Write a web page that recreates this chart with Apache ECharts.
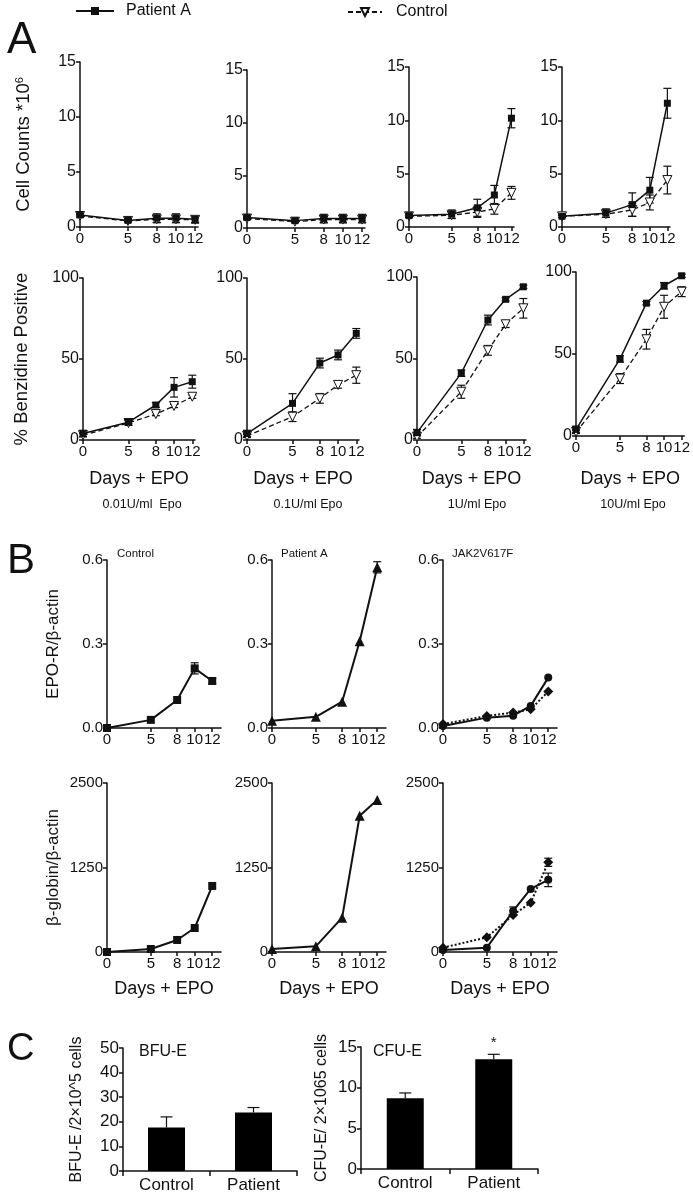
<!DOCTYPE html>
<html>
<head>
    <meta charset="utf-8">
    <title>EPO response</title>
    <script src="https://cdn.jsdelivr.net/npm/echarts@6/dist/echarts.min.js"></script>
    <style>
        html, body { margin: 0; padding: 0; background: #fff; }
        #chart { width: 693px; height: 1194px; }
    </style>
</head>
<body>
<div id="chart"></div>
<script type="text/javascript">
    // ---- data ----
    const days = [0, 5, 8, 10, 12];
    const epoDoses = ['0.01U/ml  Epo', '0.1U/ml Epo', '1U/ml Epo', '10U/ml Epo'];

    // A, top row: cell counts *10^6, one row per Epo dose
    const countPatient = [
        [1.1, 0.6, 0.8, 0.8, 0.7],
        [1.0, 0.7, 0.9, 0.9, 0.9],
        [1.07, 1.2, 1.8, 3.0, 10.2],
        [1.0, 1.3, 2.1, 3.45, 11.6]
    ];
    const countPatientErr = [
        [0.1, 0.1, 0.4, 0.4, 0.3],
        [0.1, 0.1, 0.4, 0.4, 0.4],
        [0.1, 0.4, 0.8, 0.9, 0.9],
        [0.1, 0.4, 1.1, 1.2, 1.4]
    ];
    const countControl = [
        [1.0, 0.55, 0.7, 0.7, 0.65],
        [0.9, 0.6, 0.8, 0.8, 0.8],
        [1.0, 1.1, 1.4, 1.7, 3.2],
        [1.0, 1.2, 1.6, 2.3, 4.4]
    ];
    const countControlErr = [
        [0.1, 0.1, 0.3, 0.3, 0.3],
        [0.1, 0.1, 0.3, 0.3, 0.3],
        [0.1, 0.3, 0.5, 0.5, 0.6],
        [0.1, 0.3, 0.6, 0.7, 1.3]
    ];

    // A, bottom row: % benzidine positive
    const benzPatient = [
        [4, 11, 21.6, 32.5, 36],
        [4, 22.6, 47.5, 52.5, 65.8],
        [4.5, 41, 73.6, 86.3, 94],
        [4, 47, 81, 91.6, 97.7]
    ];
    const benzPatientErr = [
        [2, 1, 1.5, 6, 4],
        [2, 6, 3, 3, 3],
        [2, 2, 3, 1, 1],
        [2, 2, 1, 2, 1]
    ];
    const benzControl = [
        [3, 10.5, 16, 21, 26.7],
        [2.5, 14.4, 25.7, 34, 40],
        [2, 29.6, 55, 71, 80.8],
        [2.5, 35, 59, 78.8, 88]
    ];
    const benzControlErr = [
        [1, 1.5, 1, 1, 1],
        [1, 3, 3, 2, 5],
        [1, 4, 3, 2, 6],
        [1, 3, 6, 7, 3]
    ];

    // B: EPO-R / beta-actin and beta-globin / beta-actin
    const epoRControl = [0.0, 0.029, 0.10, 0.213, 0.168];
    const epoRControlErr = [0, 0, 0, 0.02, 0.01];
    const epoRPatient = [0.026, 0.04, 0.094, 0.31, 0.574];
    const epoRPatientErr = [0, 0, 0, 0, 0.02];
    const epoRJakCircle = [0.007, 0.037, 0.044, 0.079, 0.18];
    const epoRJakDiamond = [0.014, 0.043, 0.055, 0.067, 0.13];

    const globinControl = [0, 44, 178, 355, 977];
    const globinPatient = [44, 84, 508, 2015, 2250];
    const globinJakCircle = [30, 64, 607, 933, 1067];
    const globinJakCircleErr = [0, 0, 60, 0, 100];
    const globinJakDiamond = [64, 217, 547, 730, 1327];
    const globinJakDiamondErr = [0, 0, 0, 0, 60];

    // C: colony counts
    const colonyGroups = ['Control', 'Patient'];
    const bfuE = [17.7, 23.8];
    const bfuEErr = [4.3, 2.0];
    const cfuE = [8.7, 13.5];
    const cfuEErr = [0.65, 0.6];

    // ---- helpers ----
    const FONT = 'Liberation Sans';
    const INK = '#111';
    let grids = [], xAxes = [], yAxes = [], series = [], titles = [];

    function addGrid(box, xAxis, yAxis) {
        let i = grids.length;
        grids.push({left: box[0], top: box[1], width: box[2], height: box[3]});
        xAxes.push(Object.assign({gridIndex: i}, xAxis));
        yAxes.push(Object.assign({gridIndex: i}, yAxis));
        return i;
    }

    function dayAxis(max, fs, name, gap) {
        return {
            type: 'value', min: 0, max: max,
            axisLine: {show: true, onZero: false, lineStyle: {color: INK, width: 1.5}},
            axisTick: {show: true, customValues: days, length: 4, lineStyle: {color: INK, width: 1.5}},
            axisLabel: {customValues: days, fontSize: fs, color: INK, fontFamily: FONT, margin: 4,
                showMinLabel: true, showMaxLabel: true, hideOverlap: false},
            splitLine: {show: false},
            name: name || '', nameLocation: 'middle', nameGap: gap || 0,
            nameTextStyle: {fontSize: 18, color: INK, fontFamily: FONT}
        };
    }

    function valueAxis(max, interval, fs, name, gap, nameSize) {
        return {
            type: 'value', min: 0, max: max, interval: interval,
            axisLine: {show: true, onZero: false, lineStyle: {color: INK, width: 1.5}},
            axisTick: {show: true, length: 4, lineStyle: {color: INK, width: 1.5}},
            axisLabel: {fontSize: fs, color: INK, fontFamily: FONT, margin: 4,
                formatter: v => interval < 1 ? v.toFixed(1) : String(v)},
            splitLine: {show: false},
            name: name || '', nameLocation: 'middle', nameGap: gap || 0, nameRotate: 90,
            nameTextStyle: {
                fontSize: nameSize || 18, color: INK, fontFamily: FONT,
                rich: {sup: {fontSize: 11, verticalAlign: 'top', fontFamily: FONT, color: INK}}
            }
        };
    }

    function errorBars(upperOnly) {
        return function (params, api) {
            let e = api.value(2);
            if (!e) return null;
            let x = api.value(0), v = api.value(1);
            let hi = api.coord([x, v + e]);
            let lo = api.coord([x, upperOnly ? v : v - e]);
            let cap = upperOnly ? 6 : 4;
            let st = {stroke: INK, lineWidth: 1.2};
            let kids = [
                {type: 'line', shape: {x1: hi[0], y1: hi[1], x2: lo[0], y2: lo[1]}, style: st},
                {type: 'line', shape: {x1: hi[0] - cap, y1: hi[1], x2: hi[0] + cap, y2: hi[1]}, style: st}
            ];
            if (!upperOnly) {
                kids.push({type: 'line', shape: {x1: lo[0] - cap, y1: lo[1], x2: lo[0] + cap, y2: lo[1]}, style: st});
            }
            return {type: 'group', children: kids};
        };
    }

    const styles = {
        patient: {symbol: 'rect', symbolSize: 7, itemStyle: {color: INK}, lineStyle: {color: INK, width: 1.5}},
        control: {symbol: 'triangle', symbolSize: 9, symbolRotate: 180,
            itemStyle: {color: '#fff', borderColor: INK, borderWidth: 1},
            lineStyle: {color: INK, width: 1.3, type: [5, 3]}},
        square: {symbol: 'rect', symbolSize: 8, itemStyle: {color: INK}, lineStyle: {color: INK, width: 2}},
        tri: {symbol: 'triangle', symbolSize: 10, itemStyle: {color: INK}, lineStyle: {color: INK, width: 2}},
        circle: {symbol: 'circle', symbolSize: 8, itemStyle: {color: INK}, lineStyle: {color: INK, width: 2}},
        diamond: {symbol: 'diamond', symbolSize: 10, itemStyle: {color: INK}, lineStyle: {color: INK, width: 2, type: [2, 2]}}
    };

    function addLine(name, gi, values, errs, style) {
        series.push(Object.assign({
            type: 'line', name: name, xAxisIndex: gi, yAxisIndex: gi, z: 3,
            data: days.map((d, k) => [d, values[k]])
        }, style));
        if (errs) {
            series.push({
                type: 'custom', xAxisIndex: gi, yAxisIndex: gi, z: 2,
                renderItem: errorBars(false),
                data: days.map((d, k) => [d, values[k], errs[k]])
            });
        }
    }

    // ---- panel A ----
    const countBoxes = [[80, 62, 118, 165], [247, 70, 118, 158], [409, 67, 105, 160], [562, 67, 108, 160]];
    const benzBoxes = [[83, 278, 112, 162], [247, 278, 112, 162], [417, 277, 109, 163], [576, 272, 110, 164]];
    const doseCenters = [137, 303, 472, 628];

    for (let p = 0; p < 4; p++) {
        let g = addGrid(countBoxes[p], dayAxis(12.3, 15),
            valueAxis(15, 5, 16, p === 0 ? 'Cell Counts *10{sup|6}' : '', 47, 18.5));
        addLine('Control', g, countControl[p], countControlErr[p], styles.control);
        addLine('Patient A', g, countPatient[p], countPatientErr[p], styles.patient);

        let box = benzBoxes[p];
        let h = addGrid(box, dayAxis(12.3, 15, 'Days + EPO', 470 - (box[1] + box[3])),
            valueAxis(100, 50, 16, p === 0 ? '% Benzidine Positive' : '', 52, 18.5));
        addLine('Control', h, benzControl[p], benzControlErr[p], styles.control);
        addLine('Patient A', h, benzPatient[p], benzPatientErr[p], styles.patient);

        titles.push({text: epoDoses[p], left: doseCenters[p], top: 493, textAlign: 'center',
            textStyle: {fontSize: 12.5, fontWeight: 'normal', color: INK, fontFamily: FONT}});
    }

    // ---- panel B ----
    const bLefts = [107, 272, 443];
    let e0 = addGrid([bLefts[0], 560, 114, 168], dayAxis(13, 15), valueAxis(0.6, 0.3, 15, 'EPO-R/β-actin', 45, 17));
    let e1 = addGrid([bLefts[1], 560, 114, 168], dayAxis(13, 15), valueAxis(0.6, 0.3, 15));
    let e2 = addGrid([bLefts[2], 560, 114, 168], dayAxis(13, 15), valueAxis(0.6, 0.3, 15));
    addLine('EPO-R control', e0, epoRControl, epoRControlErr, styles.square);
    addLine('EPO-R patient', e1, epoRPatient, epoRPatientErr, styles.tri);
    addLine('EPO-R JAK2 a', e2, epoRJakDiamond, null, styles.diamond);
    addLine('EPO-R JAK2 b', e2, epoRJakCircle, null, styles.circle);

    let b0 = addGrid([bLefts[0], 783, 114, 169], dayAxis(13, 15, 'Days + EPO', 28), valueAxis(2500, 1250, 15, 'β-globin/β-actin', 45, 17));
    let b1 = addGrid([bLefts[1], 783, 114, 169], dayAxis(13, 15, 'Days + EPO', 28), valueAxis(2500, 1250, 15));
    let b2 = addGrid([bLefts[2], 783, 114, 169], dayAxis(13, 15, 'Days + EPO', 28), valueAxis(2500, 1250, 15));
    addLine('globin control', b0, globinControl, null, styles.square);
    addLine('globin patient', b1, globinPatient, null, styles.tri);
    addLine('globin JAK2 a', b2, globinJakDiamond, globinJakDiamondErr, styles.diamond);
    addLine('globin JAK2 b', b2, globinJakCircle, globinJakCircleErr, styles.circle);

    const bTitles = ['Control', 'Patient A', 'JAK2V617F'];
    const bTitleLefts = [112, 276, 447];
    bTitles.forEach((t, k) => titles.push({text: t, left: bTitleLefts[k], top: 543,
        textStyle: {fontSize: 11.5, fontWeight: 'normal', color: INK, fontFamily: FONT}}));

    // ---- panel C ----
    function catAxis() {
        return {
            type: 'category', data: colonyGroups,
            axisLine: {show: true, lineStyle: {color: INK, width: 1.5}},
            axisTick: {show: true, length: 5, lineStyle: {color: INK, width: 1.5}},
            axisLabel: {fontSize: 17, color: INK, fontFamily: FONT, margin: 6}
        };
    }
    function addBars(gi, values, errs, starIndex) {
        series.push({
            type: 'bar', xAxisIndex: gi, yAxisIndex: gi, barWidth: 37, z: 2,
            itemStyle: {color: '#000'},
            data: values.map((v, k) => k === starIndex
                ? {value: v, label: {show: true, position: 'top', distance: 9, formatter: '*',
                    fontSize: 15, color: INK, fontFamily: FONT}}
                : v)
        });
        series.push({
            type: 'custom', xAxisIndex: gi, yAxisIndex: gi, z: 1,
            renderItem: errorBars(true),
            data: values.map((v, k) => [k, v, errs[k]])
        });
    }
    let c0 = addGrid([123, 1048, 174, 124], catAxis(), valueAxis(50, 10, 17, 'BFU-E /2×10^5 cells', 38, 16));
    let c1 = addGrid([361, 1047, 177, 122], catAxis(), valueAxis(15, 5, 17, 'CFU-E/ 2×1065 cells', 31, 16));
    addBars(c0, bfuE, bfuEErr, -1);
    addBars(c1, cfuE, cfuEErr, 1);
    titles.push({text: 'BFU-E', left: 134, top: 1039, textStyle: {fontSize: 16, fontWeight: 'normal', color: INK, fontFamily: FONT}});
    titles.push({text: 'CFU-E', left: 368, top: 1039, textStyle: {fontSize: 16, fontWeight: 'normal', color: INK, fontFamily: FONT}});

    // panel letters
    titles.push({text: 'A', left: 2, top: 14, textStyle: {fontSize: 44, fontWeight: 'normal', color: INK, fontFamily: FONT}});
    titles.push({text: 'B', left: 2, top: 535, textStyle: {fontSize: 42, fontWeight: 'normal', color: INK, fontFamily: FONT}});
    titles.push({text: 'C', left: 2, top: 1026, textStyle: {fontSize: 38, fontWeight: 'normal', color: INK, fontFamily: FONT}});

    let myChart = echarts.init(document.getElementById('chart'));
    myChart.setOption({
        animation: false,
        backgroundColor: '#fff',
        title: titles,
        legend: [
            {data: ['Patient A'], left: 70, top: -2, itemWidth: 38, itemHeight: 10, selectedMode: false,
                textStyle: {fontSize: 16, color: INK, fontFamily: FONT, padding: [0, 0, 0, 7]}},
            {data: ['Control'], left: 342, top: -1, itemWidth: 34, itemHeight: 10, selectedMode: false,
                textStyle: {fontSize: 16, color: INK, fontFamily: FONT, padding: [0, 0, 0, 9]}}
        ],
        grid: grids,
        xAxis: xAxes,
        yAxis: yAxes,
        series: series
    });
</script>
</body>
</html>
